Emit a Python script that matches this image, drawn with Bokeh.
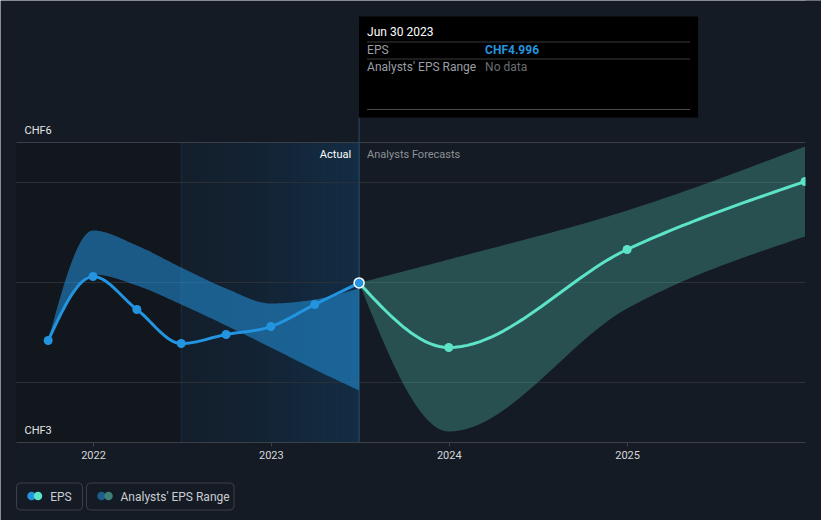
import numpy as np
import pandas as pd
from bokeh.plotting import figure
from bokeh.models import Range1d, FixedTicker, DatetimeTickFormatter
from bokeh.core.properties import value
from bokeh.embed import file_html
from bokeh.resources import INLINE

# ---------------- data ----------------
actual_dates = ["2021-09-30", "2021-12-31", "2022-03-31", "2022-06-30",
                "2022-09-30", "2022-12-31", "2023-03-31", "2023-06-30"]
actual_eps = [4.42, 5.06, 4.73, 4.39, 4.48, 4.56, 4.78, 4.996]
past_range_high = [4.42, 5.52, 5.37, 5.15, 4.94, 4.79, 4.83, 4.94]
past_range_low = [4.42, 5.08, 4.97, 4.78, 4.57, 4.35, 4.13, 3.92]

forecast_dates = ["2023-06-30", "2023-12-31", "2024-12-31", "2025-12-31"]
forecast_eps = [4.996, 4.35, 5.33, 6.01]
forecast_high = [4.996, 5.23, 5.72, 6.36]
forecast_low = [4.996, 3.51, 4.74, 5.46]

x_tick_labels = ["2022", "2023", "2024", "2025"]
y_axis_min, y_axis_max = 3.4, 6.4
y_labels = ["CHF6", "CHF3"]
grid_values = [4, 5, 6]
actual_start, actual_end = "2022-06-30", "2023-06-30"
x_start, x_end = "2021-07-27", "2026-01-01"

tooltip_title = "Jun 30 2023"
tooltip_rows = ["EPS", "Analysts' EPS Range"]
tooltip_vals = ["CHF4.996", "No data"]
legend_labels = ["EPS", "Analysts' EPS Range"]

# ---------------- style ----------------
BG = "#151b24"
BLUE = "#2394df"
MINT = "#5de3c8"
FONT = value("Roboto")
W, H = 821, 520
FL, FT, FR, FB = 16, 16, 805, 442   # chart area on the canvas
PX_PER_UNIT = 100.0


def ms(s):
    return pd.Timestamp(s).value / 1e6


def monotone(xs, ys, n=30):
    """Monotone cubic rendering of a series (like d3.curveMonotoneX)."""
    xs = np.asarray(xs, float)
    ys = np.asarray(ys, float)
    m = len(xs)
    h = np.diff(xs)
    s = np.diff(ys) / h
    t = np.zeros(m)
    for i in range(1, m - 1):
        p = (s[i - 1] * h[i] + s[i] * h[i - 1]) / (h[i - 1] + h[i])
        t[i] = (np.sign(s[i - 1]) + np.sign(s[i])) * min(abs(s[i - 1]), abs(s[i]), 0.5 * abs(p))
    if m > 2:
        t[0] = (3 * s[0] - t[1]) / 2
        t[-1] = (3 * s[-1] - t[-2]) / 2
    else:
        t[:] = s[0]
    ox, oy = [xs[0]], [ys[0]]
    for i in range(m - 1):
        p0, p3 = ys[i], ys[i + 1]
        p1 = p0 + h[i] / 3 * t[i]
        p2 = p3 - h[i] / 3 * t[i + 1]
        u = np.linspace(0, 1, n)[1:]
        yy = (1 - u) ** 3 * p0 + 3 * (1 - u) ** 2 * u * p1 + 3 * (1 - u) * u ** 2 * p2 + u ** 3 * p3
        ox.extend(xs[i] + u * h[i])
        oy.extend(yy)
    return np.array(ox), np.array(oy)


X0, X1 = ms(x_start), ms(x_end)
mpx = (X1 - X0) / (FR - FL)     # ms per pixel
upx = 1.0 / PX_PER_UNIT         # value per pixel
AS, AE = ms(actual_start), ms(actual_end)


def cx(px):  # canvas x -> data x (layout helper)
    return X0 + (px - FL) * mpx


def cy(py):  # canvas y -> data y (layout helper)
    return y_axis_min + (FB - py) * upx


p = figure(width=W, height=H, output_backend="svg", toolbar_location=None,
           x_axis_type="datetime", y_axis_location=None,
           x_range=Range1d(cx(0), cx(W)), y_range=Range1d(cy(H), cy(0)))
p.min_border_left = 0
p.min_border_right = 0
p.min_border_top = 0
p.min_border_bottom = 0
p.background_fill_color = BG
p.border_fill_color = BG
p.outline_line_color = None
p.grid.visible = False

# regions
p.quad(left=[X0], right=[AS], bottom=[y_axis_min], top=[y_axis_max], fill_color="#12161d", line_color=None)
N = 60
edges = np.linspace(AS, AE, N + 1)
c0 = np.array([19, 31, 44])
c1 = np.array([19, 46, 70])
cols = []
for k in range(N):
    f = (k + 0.5) / N
    c = (c0 + (c1 - c0) * f ** 1.3).astype(int)
    cols.append("#%02x%02x%02x" % tuple(c))
p.quad(left=edges[:-1], right=edges[1:] + mpx * 0.5, bottom=y_axis_min, top=y_axis_max,
       fill_color=cols, line_color=None)
p.segment(x0=[AS], y0=[y_axis_min], x1=[AS], y1=[y_axis_max], line_color="#1e2f40", line_width=1)

# grid lines
p.segment(x0=[X0] * len(grid_values), x1=[X1] * len(grid_values), y0=grid_values, y1=grid_values,
          line_color="#2a2f38", line_width=1)
p.segment(x0=[X0], x1=[X1], y0=[y_axis_max], y1=[y_axis_max], line_color="#3a3f48", line_width=1)

# divider line at last actual
p.segment(x0=[AE], y0=[y_axis_min], x1=[AE], y1=[cy(117)], line_color="#2b4a65", line_width=1)

# bands
ad = [ms(d) for d in actual_dates]
fd = [ms(d) for d in forecast_dates]
bx, bl = monotone(ad, past_range_low)
_, bh = monotone(ad, past_range_high)
p.varea(x=bx, y1=bl, y2=bh, fill_color=BLUE, fill_alpha=0.55)
fx, fl = monotone(fd, forecast_low)
_, fh = monotone(fd, forecast_high)
p.varea(x=fx, y1=fl, y2=fh, fill_color=MINT, fill_alpha=0.27)

# lines
lx, ly = monotone(ad, actual_eps)
p.line(lx, ly, line_color=BLUE, line_width=3)
gx, gy = monotone(fd, forecast_eps)
p.line(gx, gy, line_color=MINT, line_width=3)
p.scatter(ad[:-1], actual_eps[:-1], size=9, fill_color=BLUE, line_color=None)
p.scatter(fd[1:], forecast_eps[1:], size=9, fill_color=MINT, line_color=None)
p.scatter(ad[-1:], actual_eps[-1:], size=10, fill_color=BLUE, line_color="white", line_width=1.5)
# the chart area ends at the right edge (last marker is cut in half there)
p.quad(left=[X1], right=[cx(W)], bottom=[cy(H)], top=[cy(0)], fill_color=BG, line_color=None)

# texts
p.text(x=[AE - 8 * mpx], y=[cy(154)], text=["Actual"], text_font=FONT,
       text_font_size="11px", text_color="#ffffff", text_align="right", text_baseline="middle")
p.text(x=[AE + 8 * mpx], y=[cy(154)], text=["Analysts Forecasts"], text_font=FONT,
       text_font_size="11px", text_color="#8c9196", text_align="left", text_baseline="middle")
p.text(x=[X0 + 8 * mpx] * 2, y=[y_axis_max + 12 * upx, y_axis_min + 12 * upx], text=y_labels,
       text_font=FONT, text_font_size="11px", text_color="#e6e6e6", text_align="left",
       text_baseline="middle")

# tooltip box
TL, TR = AE, AE + 339 * mpx
p.quad(left=[TL], right=[TR], top=[cy(16)], bottom=[cy(117)], fill_color="#000000", line_color=None)
sep_y = [cy(41.5), cy(58.5), cy(109)]
p.segment(x0=[TL + 8 * mpx] * 3, x1=[TR - 8 * mpx] * 3, y0=sep_y, y1=sep_y,
          line_color=["#3a3a3a", "#3a3a3a", "#4a4a4a"], line_width=1)
p.text(x=[TL + 8 * mpx], y=[cy(31)], text=[tooltip_title], text_font=FONT,
       text_font_size="12px", text_color="#ffffff", text_baseline="middle")
row_y = [cy(49.5), cy(66)]
p.text(x=[TL + 8 * mpx] * 2, y=row_y, text=tooltip_rows, text_font=FONT,
       text_font_size="12px", text_color="#9a9ea4", text_baseline="middle")
p.text(x=[TL + 126 * mpx] * 2, y=row_y, text=tooltip_vals, text_font=FONT,
       text_font_size="12px", text_color=[BLUE, "#6a6e73"], text_font_style=["bold", "normal"],
       text_baseline="middle")

# x axis, pinned to the bottom of the chart area
p.xaxis.fixed_location = y_axis_min
p.xaxis.bounds = (X0, X1)
p.xaxis.ticker = FixedTicker(ticks=[ms(f"{y}-01-01") for y in x_tick_labels])
p.xaxis.formatter = DatetimeTickFormatter(years="%Y", months="%Y", days="%Y")
p.xaxis.axis_line_color = "#3b4049"
p.xaxis.major_tick_line_color = "#3b4049"
p.xaxis.major_tick_out = 4
p.xaxis.major_tick_in = 0
p.xaxis.minor_tick_line_color = None
p.xaxis.major_label_text_color = "#d5d7da"
p.xaxis.major_label_text_font = "Roboto"
p.xaxis.major_label_text_font_size = "11px"
p.xaxis.major_label_standoff = 4

# ---------------- legend ----------------
box_l = [cx(16), cx(86)]
box_r = [cx(82), cx(233.5)]
p.quad(left=box_l, right=box_r, top=[cy(482.5)] * 2, bottom=[cy(509.5)] * 2,
       fill_color=None, line_color="#3a3f48", line_width=1, border_radius=4)
p.scatter([cx(31), cx(101)], [cy(495.5)] * 2, size=8.5, fill_color=[BLUE, "#1c5d8b"], line_color=None)
p.scatter([cx(37.5), cx(108)], [cy(495.5)] * 2, size=8.5, fill_color=[MINT, "#3e8078"], line_color=None)
p.text(x=[cx(49.7), cx(120)], y=[cy(496)] * 2, text=legend_labels, text_font=FONT,
       text_font_size="12px", text_color="#c9cdd2", text_baseline="middle")

open("out.html", "w").write(file_html(p, INLINE))
